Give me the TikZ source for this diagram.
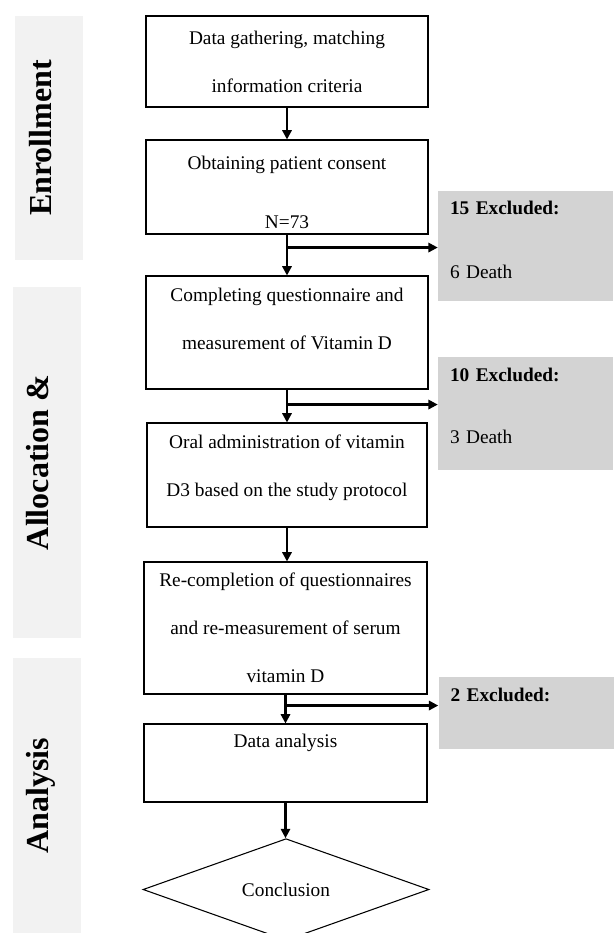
\documentclass[tikz,border=0pt]{standalone}
\usepackage{fontspec}
\setmainfont{Liberation Serif}
\usetikzlibrary{arrows.meta,shapes.geometric}
\definecolor{barfill}{RGB}{242,242,242}
\definecolor{exfill}{RGB}{211,211,211}

\tikzset{
  stagebox/.style={draw, line width=0.8pt, inner xsep=4pt, inner ysep=2pt, align=center, font=\fontsize{14.5}{36}\selectfont},
  exbox/.style={fill=exfill, inner xsep=9pt, inner ysep=2pt, text width=113.25pt, align=left, font=\fontsize{14.5}{36}\selectfont},
  phasebar/.style={fill=barfill, rotate=90, inner sep=2pt, minimum height=51pt, text depth=13pt, font=\fontsize{24}{28}\selectfont\bfseries},
  arrowline/.style={draw, line width=1.6pt, -{Triangle[length=7pt,width=7pt]}},
}

\begin{document}
\begin{tikzpicture}[x=0.75pt,y=0.75pt,yscale=-1.,xscale=1.]
    \useasboundingbox (0,0) rectangle (614,933);

    %Shape: Phase bars
    \node [phasebar, minimum width=183pt] (enrol) at (49,138) {Enrollment};
    \node [phasebar, minimum width=263.25pt] (alloc) at (46.5,462.5) {Allocation \&};
    \node [phasebar, minimum width=206.25pt] (anal) at (46.5,795.5) {Analysis};

    %Shape: Rectangle
    \node [stagebox, minimum width=211.5pt, minimum height=68.25pt] (gather) at (287,61.5) {Data gathering, matching\\information criteria};
    \node [stagebox, minimum width=211.5pt, minimum height=70.5pt] (consent) at (287,187) {\rule{0pt}{18pt}Obtaining patient consent\\[8.25pt]N=73};
    \node [stagebox, minimum width=211.5pt, minimum height=84.75pt, text depth=20pt] (quest) at (287,332.5) {Completing questionnaire and\\measurement of Vitamin D};
    \node [stagebox, minimum width=210pt, minimum height=78pt, text depth=14pt] (oral) at (287,475) {Oral administration of vitamin\\D3 based on the study protocol};
    \node [stagebox, minimum width=212.25pt, minimum height=99pt] (recomp) at (285.5,628) {Re-completion of questionnaires\\and re-measurement of serum\\vitamin D};
    \node [stagebox, minimum width=212.25pt, minimum height=58.5pt, text depth=33pt] (analysis) at (285.5,763) {Data analysis};

    %Shape: Diamond
    \node [stagebox, diamond, inner sep=0pt, minimum width=214.5pt, minimum height=59.25pt] (concl) at (286,889.5) {Conclusion};

    %Shape: Excluded boxes
    \node [exbox, minimum height=82.5pt, text depth=57pt] (ex1) at (525.5,246) {\textbf{15 Excluded:}\\[12pt]6 Death};
    \node [exbox, minimum height=84.75pt, text depth=57.75pt] (ex2) at (525.5,413.5) {\textbf{10 Excluded:}\\[10.5pt]3 Death};
    \node [exbox, minimum height=54pt, text depth=27pt] (ex3) at (526,713) {\textbf{2 Excluded:}};

    %Straight Lines
    \path [arrowline] (gather.south) -- (gather.south |- consent.north);
    \path [arrowline] (consent.south) -- (consent.south |- quest.north);
    \path [arrowline] (quest.south) -- (quest.south |- oral.north);
    \path [arrowline] (oral.south) -- (oral.south |- recomp.north);
    \path [arrowline] (recomp.south) -- (recomp.south |- analysis.north);
    \path [arrowline] (analysis.south) -- (analysis.south |- concl.north);

    %Straight Lines: side exits
    \path (consent.south) ++(0,13) coordinate (j1);
    \path (quest.south) ++(0,15) coordinate (j2);
    \path (recomp.south) ++(0,11) coordinate (j3);
    \path [arrowline] (j1) -- (j1 -| ex1.west);
    \path [arrowline] (j2) -- (j2 -| ex2.west);
    \path [arrowline] (j3) -- (j3 -| ex3.west);

\end{tikzpicture}
\end{document}
